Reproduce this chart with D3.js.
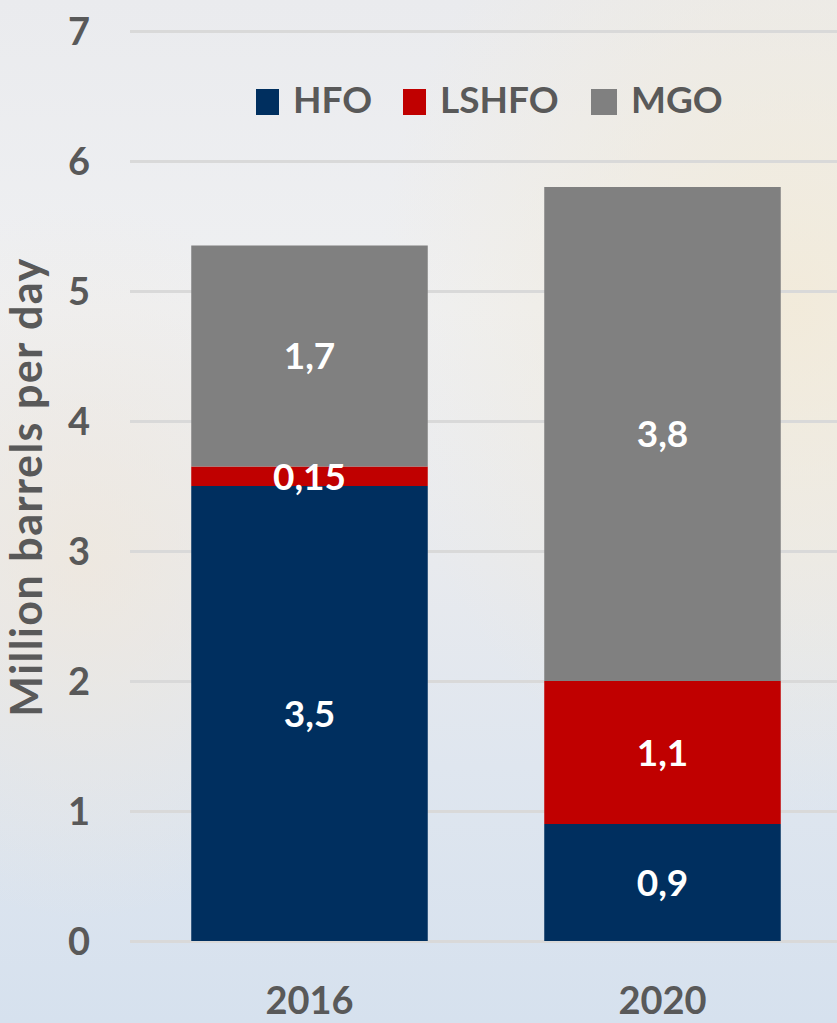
<!DOCTYPE html>
<html>
<head>
<meta charset="utf-8">
<script src="https://cdn.jsdelivr.net/npm/d3@7"></script>
<style>
  html, body { margin: 0; padding: 0; background: #e8ecf1; }
  svg { display: block; }
</style>
</head>
<body>
<script>
// Marine fuel demand, million barrels per day
const years = ["2016", "2020"];
const fuels = ["HFO", "LSHFO", "MGO"];
const hfo = [3.5, 0.9];
const lshfo = [0.15, 1.1];
const mgo = [1.7, 3.8];
const valueLabels = [["3,5", "0,15", "1,7"], ["0,9", "1,1", "3,8"]];
const yTicks = [0, 1, 2, 3, 4, 5, 6, 7];
const fuelColors = ["#002f5f", "#c00000", "#808080"];

const W = 837, H = 1023;
const svg = d3.select("body").append("svg").attr("width", W).attr("height", H);
const FONT = "Lato, 'Open Sans', sans-serif";
const TXT = "#595959";

// soft sky backdrop
const defs = svg.append("defs");
const lg = defs.append("linearGradient").attr("id", "sky").attr("x1", 0).attr("y1", 0).attr("x2", 0).attr("y2", 1);
[["0%", "#eaebee"], ["30%", "#eff0f2"], ["55%", "#e8eaee"], ["75%", "#dfe6ef"], ["100%", "#d6e1ee"]]
  .forEach(([o, c]) => lg.append("stop").attr("offset", o).attr("stop-color", c));
const warm = defs.append("radialGradient").attr("id", "warm").attr("cx", 0.95).attr("cy", 0.3).attr("r", 0.5);
warm.append("stop").attr("offset", "0%").attr("stop-color", "#f2ead8").attr("stop-opacity", 0.9);
warm.append("stop").attr("offset", "100%").attr("stop-color", "#f2ead8").attr("stop-opacity", 0);
const warm2 = defs.append("radialGradient").attr("id", "warm2").attr("cx", 0.1).attr("cy", 0.55).attr("r", 0.35);
warm2.append("stop").attr("offset", "0%").attr("stop-color", "#f0e7da").attr("stop-opacity", 0.7);
warm2.append("stop").attr("offset", "100%").attr("stop-color", "#f0e7da").attr("stop-opacity", 0);
svg.append("rect").attr("width", W).attr("height", H).attr("fill", "url(#sky)");
svg.append("rect").attr("width", W).attr("height", H).attr("fill", "url(#warm)");
svg.append("rect").attr("width", W).attr("height", H).attr("fill", "url(#warm2)");

const y = d3.scaleLinear().domain([0, 7]).range([941, 31]);
const x = d3.scaleBand().domain(years).range([133, 839]).paddingInner(0.33).paddingOuter(0.165);

// gridlines and value ticks
const yAxis = d3.axisLeft(y).tickValues(yTicks).tickSize(-(W - 130)).tickFormat(d3.format("d"));
const gAxis = svg.append("g").attr("transform", "translate(130,0)").call(yAxis);
gAxis.select(".domain").remove();
gAxis.selectAll(".tick line").attr("stroke", "#d9d9d9").attr("stroke-width", 3);
gAxis.selectAll(".tick text")
  .attr("fill", TXT).attr("font-family", FONT).attr("font-weight", "bold").attr("font-size", 38)
  .attr("text-anchor", "middle").attr("x", -51).attr("dy", "0.36em");

// stacked bars
const rows = years.map((yr, i) => ({ year: yr, HFO: hfo[i], LSHFO: lshfo[i], MGO: mgo[i], idx: i }));
const series = d3.stack().keys(fuels)(rows);
const gBars = svg.append("g");
series.forEach((s, k) => {
  gBars.selectAll(null).data(s).enter().append("rect")
    .attr("x", d => x(d.data.year))
    .attr("width", x.bandwidth())
    .attr("y", d => y(d[1]))
    .attr("height", d => y(d[0]) - y(d[1]))
    .attr("fill", fuelColors[k]);
});
series.forEach((s, k) => {
  gBars.selectAll(null).data(s).enter().append("text")
    .attr("x", d => x(d.data.year) + x.bandwidth() / 2)
    .attr("y", d => (y(d[0]) + y(d[1])) / 2)
    .attr("dy", "0.36em")
    .attr("text-anchor", "middle")
    .attr("fill", "#ffffff").attr("font-family", FONT).attr("font-weight", "bold").attr("font-size", 37)
    .text(d => valueLabels[d.data.idx][k]);
});

// category labels
const xAxis = d3.axisBottom(x).tickSize(0).tickPadding(0);
const gx = svg.append("g").attr("transform", "translate(0,1000)").call(xAxis);
gx.select(".domain").remove();
gx.selectAll(".tick text")
  .attr("fill", TXT).attr("font-family", FONT).attr("font-weight", "bold").attr("font-size", 38)
  .attr("dy", "0.36em");

// axis title
svg.append("text")
  .attr("transform", "translate(42,487) rotate(-90)")
  .attr("text-anchor", "middle")
  .attr("letter-spacing", 1.5)
  .attr("fill", TXT).attr("font-family", FONT).attr("font-weight", "bold").attr("font-size", 43)
  .text("Million barrels per day");

// legend
const legendX = [256, 403, 591];
const legendW = [23, 23, 26];
const gLeg = svg.append("g");
fuels.forEach((f, i) => {
  gLeg.append("rect").attr("x", legendX[i]).attr("y", 89).attr("width", legendW[i]).attr("height", 26).attr("fill", fuelColors[i]);
  gLeg.append("text").attr("x", legendX[i] + legendW[i] + 14).attr("y", 100).attr("dy", "0.36em")
    .attr("fill", TXT).attr("font-family", FONT).attr("font-weight", "bold").attr("font-size", 37)
    .text(f);
});
</script>
</body>
</html>
